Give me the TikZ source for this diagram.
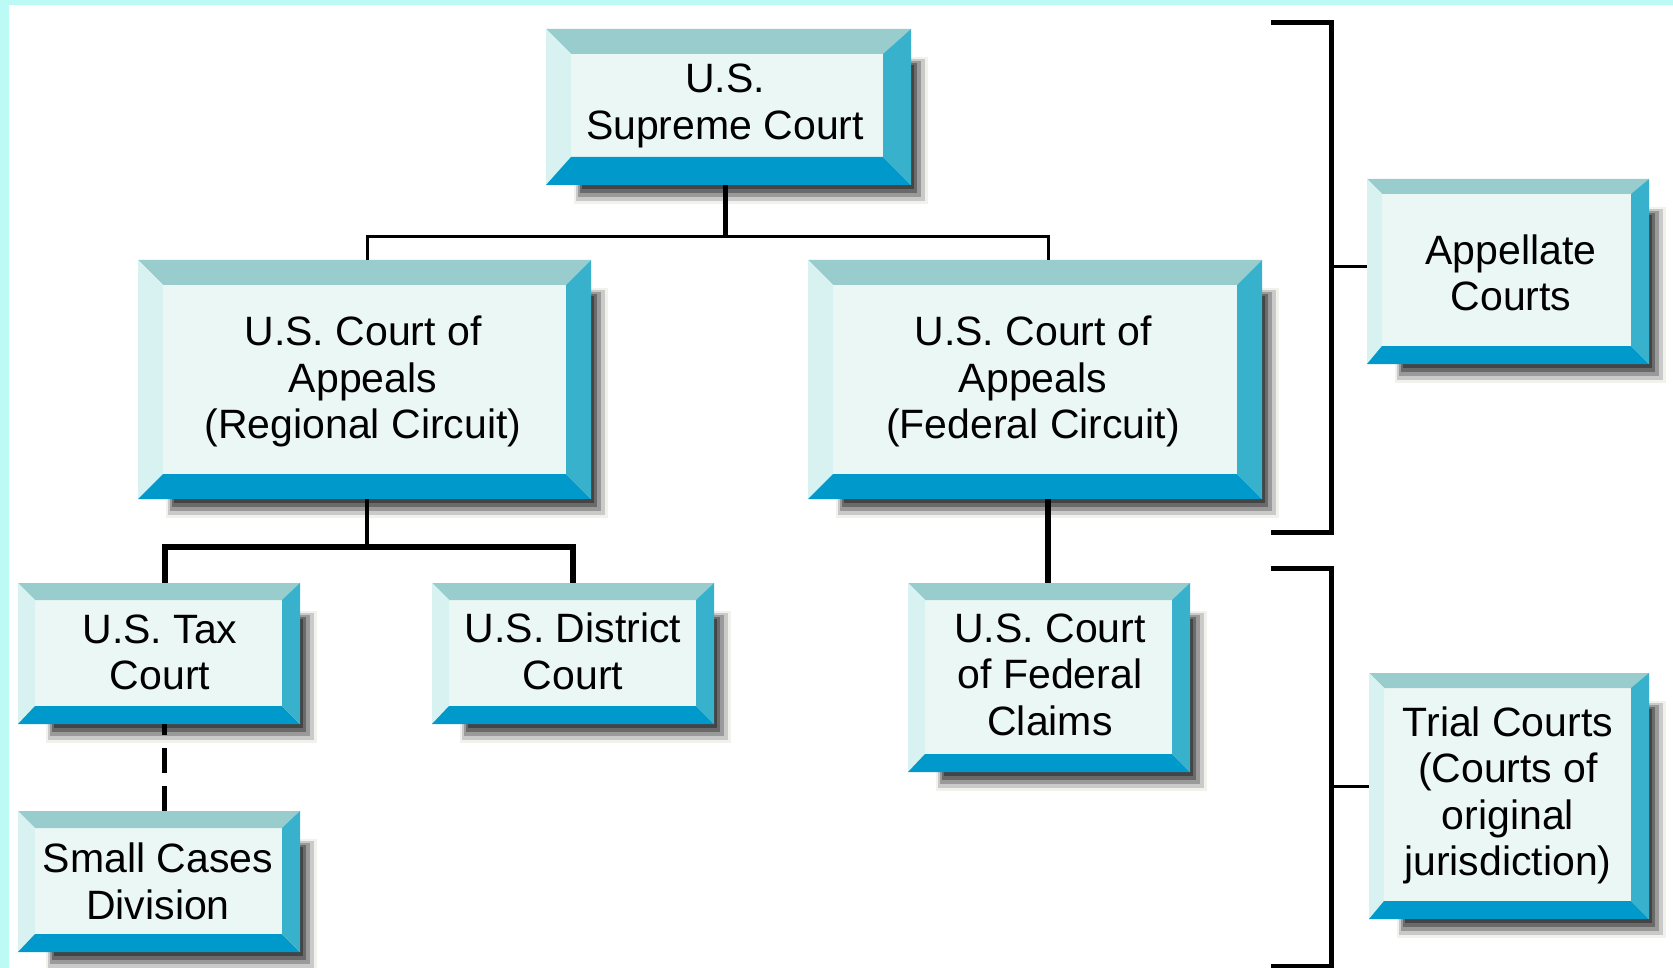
\documentclass[tikz,border=0pt]{standalone}
\usepackage{fontspec}
\setmainfont{Liberation Sans}
\usetikzlibrary{calc,fit}
\definecolor{framecol}{HTML}{BCFBF5}
\definecolor{bevtop}{HTML}{99CCCC}
\definecolor{bevbot}{HTML}{0099CC}
\definecolor{bevleft}{HTML}{D8F2F2}
\definecolor{bevright}{HTML}{38B2CC}
\definecolor{boxface}{HTML}{EBF7F5}
\definecolor{shA}{HTML}{F2F2EC}
\definecolor{shB}{HTML}{CACACA}
\definecolor{shC}{HTML}{9A9A9A}
\definecolor{shD}{HTML}{6A6A6A}
\definecolor{shE}{HTML}{444444}
\newcommand\bevelbox[7]{%
 \fill[shA] (#2+28,#3+28) rectangle (#4+17,#5+19);
 \fill[shB] (#2+30,#3+30) rectangle (#4+14,#5+16);
 \fill[shC] (#2+32,#3+32) rectangle (#4+10,#5+12);
 \fill[shD] (#2+34,#3+34) rectangle (#4+6,#5+8);
 \fill[shE] (#2+36,#3+36) rectangle (#4+3,#5+4);
 \fill[boxface] (#2,#3) rectangle (#4,#5);
 \fill[bevtop] (#2,#3) -- (#4,#3) -- (#4-#7,#3+#6) -- (#2+#6,#3+#6) -- cycle;
 \fill[bevleft] (#2,#3) -- (#2+#6,#3+#6) -- (#2+#6,#5-#7) -- (#2,#5) -- cycle;
 \fill[bevbot] (#2,#5) -- (#2+#6,#5-#7) -- (#4-#7,#5-#7) -- (#4,#5) -- cycle;
 \fill[bevright] (#4,#3) -- (#4,#5) -- (#4-#7,#5-#7) -- (#4-#7,#3+#6) -- cycle;
 \node[fit={(#2,#3)(#4,#5)}, inner sep=0pt] (#1) {};
}
\tikzset{
 lbl/.style={inner sep=0pt, align=center, text=black,
   font=\fontsize{41}{46.5}\selectfont,
   execute at begin node=\strut, execute at end node=\strut},
 c3/.style={line width=3pt, black},
 c4/.style={line width=4pt, black},
 c5/.style={line width=5pt, black},
 c6/.style={line width=6pt, black, line join=miter},
 dashline/.style={line width=5pt, black, dash pattern=on 25pt off 13pt, dash phase=14pt},
 brk/.style={line width=5pt, black, line join=miter}
}
\begin{document}
\begin{tikzpicture}[x=1pt,y=-1pt]
\useasboundingbox (0,0) rectangle (1673,968);
\fill[white] (0,0) rectangle (1673,968);
\fill[framecol] (0,0) rectangle (1673,5);
\fill[framecol] (0,0) rectangle (9,968);

% boxes
\bevelbox{sup}{546}{29}{911}{185}{25}{28}
\bevelbox{reg}{138}{260}{591}{499}{25}{25}
\bevelbox{fed}{808}{260}{1262}{499}{25}{25}
\bevelbox{tax}{18}{583}{300}{724}{17}{18}
\bevelbox{dist}{432}{583}{714}{724}{17}{18}
\bevelbox{clm}{908}{583}{1190}{772}{17}{18}
\bevelbox{small}{18}{811}{300}{952}{17}{18}
\bevelbox{app}{1367}{179}{1649}{364}{15}{18}
\bevelbox{trial}{1369}{673}{1649}{919}{15}{18}

% labels
\node[lbl] (sup-t) at (725,108.5) {U.S.\\Supreme Court};
\node[lbl] (reg-t) at (363,384.5) {U.S. Court of\\Appeals\\(Regional Circuit)};
\node[lbl] (fed-t) at (1033,384.5) {U.S. Court of\\Appeals\\(Federal Circuit)};
\node[lbl] (tax-t) at (160,659) {U.S. Tax\\Court};
\node[lbl] (dist-t) at (573,658) {U.S. District\\Court};
\node[lbl] (clm-t) at (1050,681.5) {U.S. Court\\of Federal\\Claims};
\node[lbl] (small-t) at (158,888) {Small Cases\\Division};
\node[lbl] (app-t) at (1511,279.5) {Appellate\\Courts};
\node[lbl] (trial-t) at (1508,798) {Trial Courts\\(Courts of\\original\\jurisdiction)};

% connectors
\coordinate (jA) at (725,237);
\coordinate (rA) at (367,237);
\coordinate (fA) at (1048,237);
\draw[c5] (jA |- sup.south) -- (jA);
\draw[c3] (rA |- reg.north) -- (rA) -- (fA) -- (fA |- fed.north);

\coordinate (rB) at (367,547);
\coordinate (tB) at (165,547);
\coordinate (dB) at (573,547);
\draw[c4] (rB |- reg.south) -- (rB);
\draw[c6] (tB |- tax.north) -- (tB) -- (dB) -- (dB |- dist.north);

\coordinate (fB) at (1048,540);
\draw[c6] (fB |- fed.south) -- (fB |- clm.north);

\coordinate (tC) at (164,760);
\draw[dashline] (tC |- tax.south) -- (tC |- small.north);

% brackets
\coordinate (b1a) at (1271,23);
\coordinate (b1b) at (1331,23);
\coordinate (b1c) at (1331,532);
\coordinate (b1d) at (1271,532);
\draw[brk] (b1a) -- (b1b) -- (b1c) -- (b1d);
\coordinate (tk1) at (1331,267);
\draw[c3] (tk1) -- (tk1 -| app.west);

\coordinate (b2a) at (1271,568);
\coordinate (b2b) at (1331,568);
\coordinate (b2c) at (1331,966);
\coordinate (b2d) at (1271,966);
\draw[brk] (b2a) -- (b2b) -- (b2c) -- (b2d);
\coordinate (tk2) at (1331,786);
\draw[c3] (tk2) -- (tk2 -| trial.west);
\end{tikzpicture}
\end{document}
